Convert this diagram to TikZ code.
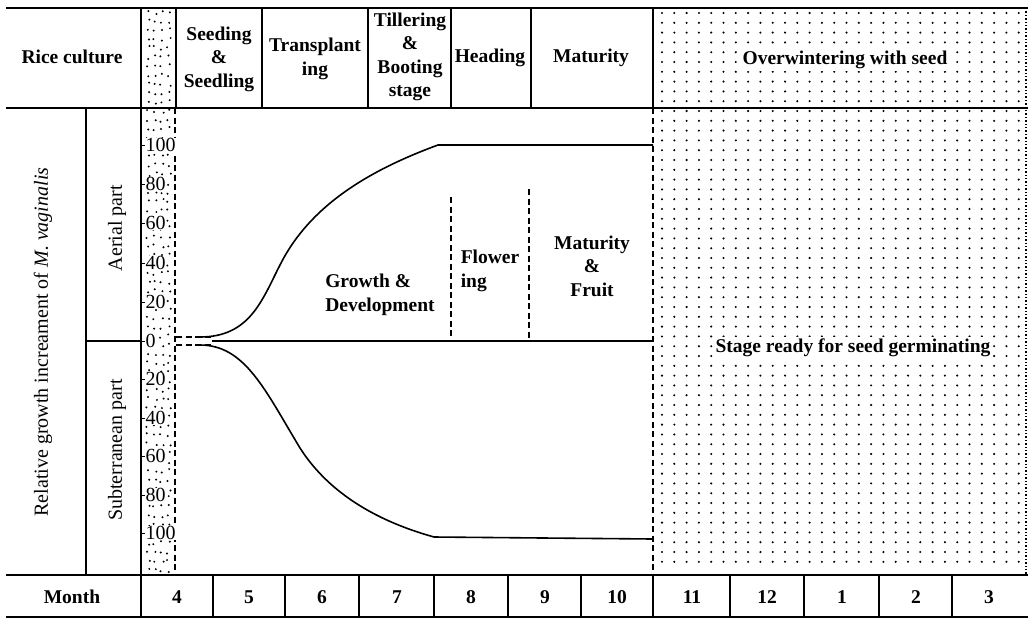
\documentclass[tikz,border=0pt]{standalone}
\usepackage{fontspec}
\setmainfont{Liberation Serif}
\usetikzlibrary{positioning}
\begin{document}
\begin{tikzpicture}[x=1pt, y=-1pt,
    every node/.style={inner sep=1pt, align=center, font=\fontsize{19.5}{23.5}\selectfont\bfseries},
    plain/.style={font=\fontsize{20}{23.5}\selectfont},
    rule/.style={line width=1.7pt},
    dashrule/.style={line width=1.5pt, dash pattern=on 6pt off 3.5pt},
    curve/.style={line width=1.6pt},
    onspeck/.style={fill=white, inner sep=2pt}]

    \useasboundingbox (0,0) rectangle (1031,622);

    % stippled winter block and column of month 4
    \foreach \i in {0,...,29}
      \foreach \j in {0,...,56}
        \fill (662+\i*12.3, 13+\j*9.8) circle (1.15);
    \pgfmathsetseed{7}
    \foreach \j in {0,...,62}
      \foreach \k in {148,155,162,169}
        \fill ({\k+rand*2}, {12+\j*9+rand*2}) circle (1.1);

    % table rules
    \draw[rule] (6,8) -- (1028,8);
    \draw[rule] (6,108) -- (1028,108);
    \draw[rule] (6,575) -- (1028,575);
    \draw[rule] (6,617) -- (1028,617);
    \foreach \x in {141,176,262,368,451,531,653}
      \draw[rule] (\x,8) -- (\x,108);
    \draw[rule] (86,108) -- (86,575);
    \draw[rule] (86,341) -- (141,341);
    \draw[rule] (141,108) -- (141,575);
    \draw[dashrule] (175,108) -- (175,575);
    \draw[dashrule] (653,108) -- (653,575);
    \draw[dotted, line width=1.4pt] (1026,8) -- (1026,575);
    \foreach \x in {141,213,285,359,434,508,581,653,730,804,879,952}
      \draw[rule] (\x,575) -- (\x,617);

    % growth curves
    \draw[dashrule, line width=1.2pt] (176,337) -- (212,337);
    \draw[dashrule, line width=1.2pt] (176,345) -- (212,345);
    \draw[curve] (212,341) -- (653,341);
    \draw[curve] (200,337) .. controls (250,337) and (262,300) .. (280,265)
                 .. controls (310,205) and (370,170) .. (438,145) -- (653,145);
    \draw[curve] (200,345) .. controls (245,345) and (265,390) .. (300,448)
                 .. controls (330,495) and (380,522) .. (434,537) -- (653,539);
    \draw[dashrule, line width=1.2pt] (451,197) -- (451,341);
    \draw[dashrule, line width=1.2pt] (529,189) -- (529,341);

    % axis ticks
    \foreach \v/\y in {100/145,80/184,60/223,40/263,20/302,0/341} {
      \draw[line width=1pt] (141,\y) -- (145,\y);
      \node[plain, anchor=west, fill=white, inner sep=0.5pt] (up\v) at (145,\y) {\v};
    }
    \foreach \v/\y in {20/379,40/418,60/456,80/495,100/533} {
      \draw[line width=1pt] (141,\y) -- (145,\y);
      \node[plain, anchor=west, fill=white, inner sep=0.5pt] (dn\v) at (145,\y) {\v};
    }

    % header
    \node (rice) at (72,57) {Rice culture};
    \node (seeding) at (219,59) {Seeding\\\&\\Seedling};
    \node (transplant) at (315,59) {Transplant\\ing};
    \node (tillering) at (410,57) {Tillering\\\&\\Booting\\stage};
    \node (heading) at (490,58) {Heading};
    \node (maturity) at (591,58) {Maturity};
    \node[onspeck] (winter) at (845,60) {Overwintering with seed};

    % body
    \node[plain, rotate=90] (ylabel) at (43,342) {Relative growth increament of \textit{M. vaginalis}};
    \node[plain, rotate=90] (aerial) at (117,228) {Aerial part};
    \node[plain, rotate=90] (subter) at (117,450) {Subterranean part};
    \node[align=left] (growth) at (380,295) {Growth \&\\Development};
    \node[align=left] (flower) at (490,271) {Flower\\ ing};
    \node (fruit) at (592,266) {Maturity\\\&\\Fruit};
    \node[onspeck] (germ) at (853,348) {Stage ready for seed germinating};

    % months
    \node (month) at (72,597) {Month};
    \foreach \m/\x in {4/177,5/249,6/322,7/397,8/471,9/545,10/617,11/692,12/767,1/842,2/916,3/989}
      \node (m\m) at (\x,597) {\m};
\end{tikzpicture}
\end{document}
